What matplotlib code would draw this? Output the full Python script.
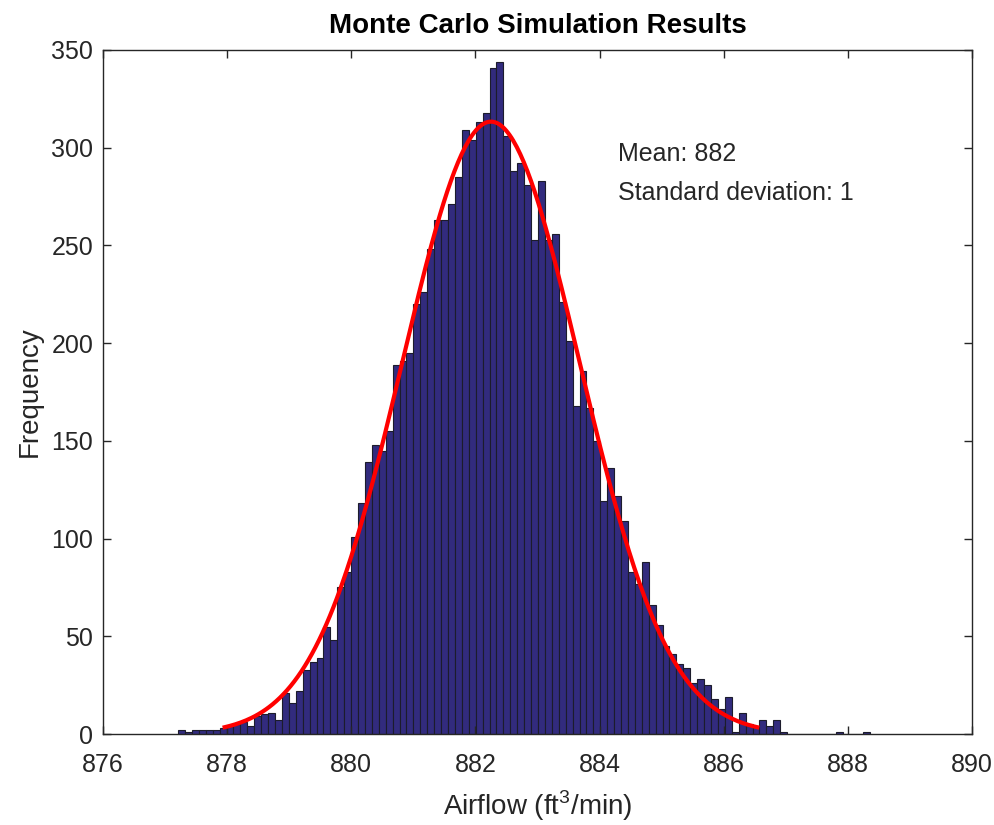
import numpy as np
import matplotlib
matplotlib.use("Agg")
import matplotlib.pyplot as plt

plt.rcParams['font.family'] = ['Liberation Sans', 'DejaVu Sans']
plt.rcParams['mathtext.fontset'] = 'custom'
plt.rcParams['mathtext.rm'] = 'Liberation Sans'

# histogram (100 bins)
bin_lo = 877.21
bin_width = 0.1115
counts = [2, 1, 2, 2, 2, 2, 3, 4, 5, 6,
          4, 9, 10, 11, 7, 21, 16, 22, 33, 37,
          39, 55, 48, 75, 83, 101, 118, 139, 148, 145,
          155, 189, 191, 195, 220, 226, 248, 263, 263, 271,
          285, 309, 304, 313, 318, 341, 344, 306, 288, 292,
          281, 253, 283, 253, 256, 221, 201, 168, 186, 167,
          150, 119, 136, 122, 109, 83, 77, 88, 66, 56,
          45, 41, 36, 34, 26, 28, 25, 18, 13, 19,
          1, 11, 5, 4, 7, 4, 7, 1, 0, 0,
          0, 0, 0, 0, 0, 1, 0, 0, 0, 1]

# normal fit
mu = 882.25
sigma = 1.43
mean_txt = "Mean: 882"
std_txt = "Standard deviation: 1"

fig = plt.figure(figsize=(9.95, 8.25), dpi=100)
ax = fig.add_axes([0.1035, 0.1103, 0.8734, 0.8291])

dark = '#262626'
centers = bin_lo + bin_width * (np.arange(len(counts)) + 0.5)
ax.bar(centers, counts, width=bin_width, color='#322b7e',
       edgecolor='#1c1c2c', linewidth=0.8)

# fitted curve, mu +/- 3 sigma
xs = np.linspace(mu - 3 * sigma, mu + 3 * sigma, 300)
scale = sum(counts) * bin_width / (sigma * np.sqrt(2 * np.pi))
ax.plot(xs, scale * np.exp(-0.5 * ((xs - mu) / sigma) ** 2),
        color='red', linewidth=3)

ax.text(884.3, 297, mean_txt, fontsize=18, color=dark, va='center')
ax.text(884.3, 277, std_txt, fontsize=18, color=dark, va='center')

ax.set_xlim(876, 890)
ax.set_ylim(0, 350)
ax.set_xticks(np.arange(876, 891, 2))
ax.set_yticks(np.arange(0, 351, 50))
ax.tick_params(direction='in', length=6, width=1, labelsize=18,
               colors=dark, top=True, right=True)
ax.tick_params(axis='x', pad=14)
ax.tick_params(axis='y', pad=7)
for s in ax.spines.values():
    s.set_color(dark)
    s.set_linewidth(1)

ax.set_title("Monte Carlo Simulation Results", fontsize=20,
             fontweight='bold', color='black', pad=12)
ax.set_xlabel("Airflow (ft$^3$/min)", fontsize=20, color=dark, labelpad=8)
ax.set_ylabel("Frequency", fontsize=20, color=dark, labelpad=6)

fig.savefig("out.png", dpi=100)
